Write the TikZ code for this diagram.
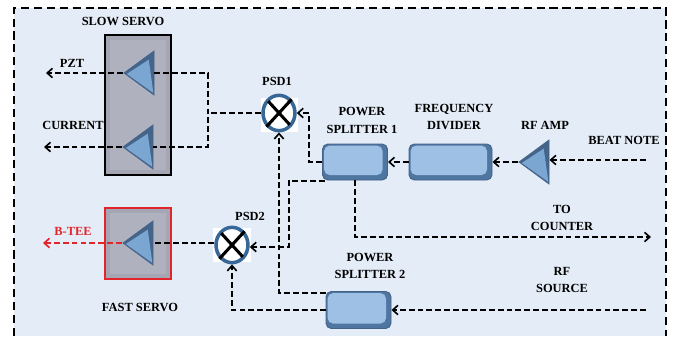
\documentclass[tikz,border=0pt]{standalone}
\usepackage{fontspec}
\setmainfont{Liberation Serif}
\usepackage{xcolor}
\usetikzlibrary{positioning, shapes.geometric, arrows.meta}
\definecolor{panelblue}{HTML}{E4EDF7}
\definecolor{rimblue}{HTML}{4F75A1}
\definecolor{faceblue}{HTML}{9DC0E4}
\definecolor{ampblue}{HTML}{7BA6D2}
\definecolor{ampdark}{HTML}{44648A}
\definecolor{ringblue}{HTML}{376797}
\definecolor{servogrey}{HTML}{A4A6B3}
\definecolor{servoface}{HTML}{AFB1BE}
\definecolor{servored}{HTML}{E1252B}
\tikzset{
    label/.style = {font = \bfseries\fontsize{10.6}{15}\selectfont, align = center, inner sep = 0pt},
    servo/.style = {
        draw = black, line width = 1.4pt, fill = servogrey, inner sep = 0pt, minimum width = 1.98cm,
        path picture = {
            \fill[servoface] ([xshift=0.14cm,yshift=-0.14cm]path picture bounding box.north west) rectangle ([xshift=-0.14cm,yshift=0.14cm]path picture bounding box.south east);
        }
    },
    block/.style = {
        draw = rimblue!85!black, line width = 0.8pt, fill = rimblue, rounded corners = 0.16cm, inner sep = 0pt,
        path picture = {
            \fill[faceblue] ([xshift=0.05cm,yshift=-0.05cm]path picture bounding box.north west) rectangle ([xshift=-0.15cm,yshift=0.15cm]path picture bounding box.south east);
        }
    },
    amp/.style = {
        draw = ampdark, line width = 0.7pt, fill = ampdark, inner sep = 0pt,
        isosceles triangle, isosceles triangle stretches, shape border rotate = 180, anchor = apex,
        minimum width = 1.32cm, minimum height = 0.9cm,
        path picture = {
            \fill[ampblue] ([xshift=0.08cm,yshift=-0.03cm]path picture bounding box.west) -- ([xshift=-0.16cm,yshift=-0.26cm]path picture bounding box.north east) -- ([xshift=-0.02cm,yshift=0.06cm]path picture bounding box.south east) -- cycle;
        }
    },
    psd/.style = {draw = ringblue, line width = 3pt, fill = white, ellipse, inner sep = 0pt, minimum width = 0.96cm, minimum height = 1.06cm},
    cross/.style = {line width = 2.6pt, shorten > = 2.2pt, shorten < = 2.2pt},
    sig/.style = {line width = 1.5pt, dash pattern = on 5pt off 2.6pt},
    tip/.style = {-{Straight Barb[length=4.5pt, width=8pt, line width=1.4pt]}}
}
\begin{document}
\begin{tikzpicture}[x=0.03cm, y=-0.03cm]

    \useasboundingbox (0,0) rectangle (673,336);

    % Panel
    \fill[panelblue] (14,8) rectangle (666,336);
    \draw[line width=1.2pt, dash pattern=on 7pt off 4pt] (14,336) -- (14,8) -- (666,8) -- (666,336);

    % Servo boxes
    \node[servo, minimum height=4.2cm] (slow) at (138,105) {};
    \node[servo, minimum height=2.13cm, draw=servored] (fast) at (138,243.5) {};

    % Amplifiers
    \node[amp] (amp1) at (123,73) {};
    \node[amp] (amp2) at (122,147) {};
    \node[amp] (amp3) at (122,243) {};
    \node[amp] (rfamp) at (518,162) {};

    % Mixers
    \node[fill=white, minimum width=1.12cm, minimum height=1.02cm, inner sep=0pt] (back1) at (279.5,115) {};
    \node[fill=white, minimum width=1.12cm, minimum height=1.02cm, inner sep=0pt] (back2) at (232,245) {};
    \node[psd] (psd1) at (279,113) {};
    \draw[cross] (psd1.north east) -- (psd1.south west) (psd1.north west) -- (psd1.south east);
    \node[psd] (psd2) at (232,245) {};
    \draw[cross] (psd2.north east) -- (psd2.south west) (psd2.north west) -- (psd2.south east);

    % Blocks
    \node[block, minimum width=1.95cm, minimum height=1.08cm] (split1) at (355,162) {};
    \node[block, minimum width=2.49cm, minimum height=1.08cm] (divider) at (450.5,162) {};
    \node[block, minimum width=1.95cm, minimum height=1.11cm] (split2) at (358.5,310) {};

    % Free ends
    \coordinate (pzt) at (46,73);
    \coordinate (current) at (44,147);
    \coordinate (btee) at (43,243);
    \coordinate (beat) at (646,160);
    \coordinate (source) at (646,310);
    \coordinate (counter) at (651,237);
    \coordinate (join) at (208,113);

    % Lines
    \draw[sig, tip] (amp1.apex) -- (pzt);
    \draw[sig, tip] (amp2.apex) -- (current);
    \draw[sig, tip, servored] (amp3.apex) -- (btee);
    \draw[sig] (amp1.lower side) -- (208,73) -- (208,147) -- (amp2.lower side);
    \draw[sig] (psd1.west) -- (join);
    \draw[sig] (psd2.west |- amp3.lower side) -- (amp3.lower side);
    \draw[sig, tip] (beat) -- (rfamp.lower side |- beat);
    \draw[sig, tip] (rfamp.apex) -- (divider.east);
    \draw[sig, tip] (divider.west) -- (split1.east);
    \draw[sig, tip] (split1.west) -| (309,113) -- (psd1.east);
    \draw[sig, tip] (325,181) -| (289,247) -- (psd2.east |- 0,247);
    \draw[sig, tip] (split2.west |- 0,293) -| (psd1.south);
    \draw[sig, tip] (split2.west) -| (psd2.south);
    \draw[sig, tip] (source) -- (split2.east);
    \draw[sig, tip] (split1.south) |- (counter);

    % Labels
    \node[label] (slowlabel) at (123,21) {SLOW SERVO};
    \node[label] (fastlabel) at (140,307) {FAST SERVO};
    \node[label] (pztlabel) at (72,63) {PZT};
    \node[label] (currentlabel) at (73,125.5) {CURRENT};
    \node[label, text=servored] (bteelabel) at (73,231) {B-TEE};
    \node[label] (psd1label) at (277,81) {PSD1};
    \node[label] (psd2label) at (250,216) {PSD2};
    \node[label] (split1label) at (362,120.5) {POWER\\SPLITTER 1};
    \node[label] (dividerlabel) at (454,117) {FREQUENCY\\DIVIDER};
    \node[label] (amplabel) at (545,125.5) {RF AMP};
    \node[label] (beatlabel) at (624,140) {BEAT NOTE};
    \node[label] (counterlabel) at (562,218) {TO\\COUNTER};
    \node[label] (split2label) at (370,266) {POWER\\SPLITTER 2};
    \node[label] (sourcelabel) at (562,280) {RF\\SOURCE};

\end{tikzpicture}
\end{document}
